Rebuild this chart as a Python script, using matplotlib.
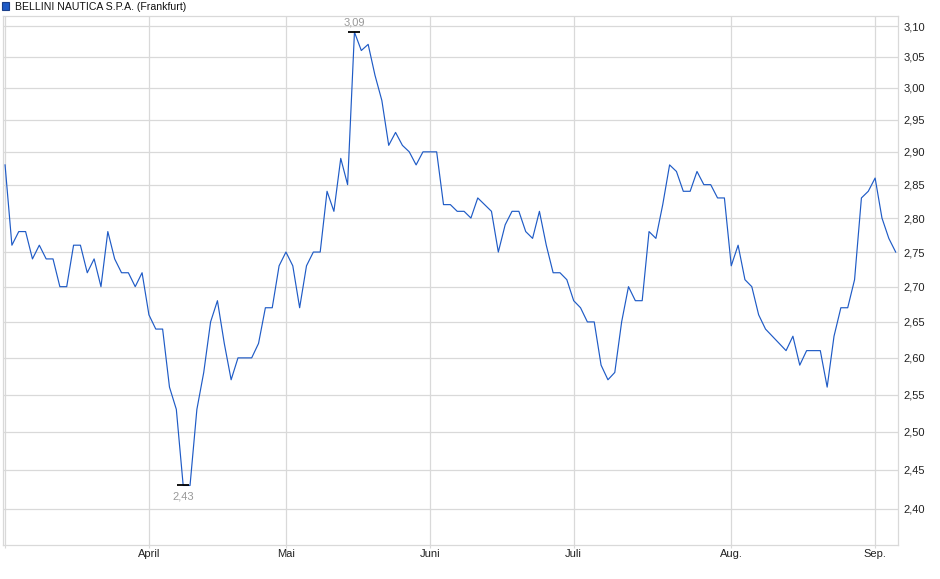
import numpy as np
import matplotlib.pyplot as plt
from matplotlib.ticker import FixedLocator, FuncFormatter, NullLocator

plt.rcParams['font.family'] = ['Liberation Sans', 'DejaVu Sans']

title = 'BELLINI NAUTICA S.P.A. (Frankfurt)'

prices = [
    2.88, 2.76, 2.78, 2.78, 2.74, 2.76, 2.74, 2.74, 2.70, 2.70, 2.76, 2.76,
    2.72, 2.74, 2.70, 2.78, 2.74, 2.72, 2.72, 2.70, 2.72, 2.66, 2.64, 2.64,
    2.56, 2.53, 2.43, 2.43, 2.53, 2.58, 2.65, 2.68, 2.62, 2.57, 2.60, 2.60,
    2.60, 2.62, 2.67, 2.67, 2.73, 2.75, 2.73, 2.67, 2.73, 2.75, 2.75, 2.84,
    2.81, 2.89, 2.85,
    3.09, 3.06, 3.07, 3.02, 2.98, 2.91, 2.93, 2.91, 2.90, 2.88, 2.90, 2.90,
    2.90, 2.82, 2.82, 2.81, 2.81, 2.80, 2.83, 2.82, 2.81, 2.75, 2.79, 2.81,
    2.81, 2.78, 2.77, 2.81, 2.76, 2.72, 2.72, 2.71, 2.68, 2.67, 2.65, 2.65,
    2.59, 2.57, 2.58, 2.65, 2.70, 2.68, 2.68, 2.78, 2.77, 2.82, 2.88, 2.87,
    2.84, 2.84, 2.87, 2.85, 2.85, 2.83, 2.83, 2.73, 2.76, 2.71, 2.70, 2.66,
    2.64, 2.63, 2.62, 2.61, 2.63, 2.59, 2.61, 2.61, 2.61, 2.56, 2.63, 2.67,
    2.67, 2.71, 2.83, 2.84, 2.86, 2.80, 2.77, 2.75,
]

# month starts (trading day index) and their labels
month_pos = [0, 21, 41, 62, 83, 106, 127]
month_labels = ['', 'April', 'Mai', 'Juni', 'Juli', 'Aug.', 'Sep.']

y_ticks = [2.40, 2.45, 2.50, 2.55, 2.60, 2.65, 2.70, 2.75, 2.80, 2.85,
           2.90, 2.95, 3.00, 3.05, 3.10]

W, H = 940, 579
fig = plt.figure(figsize=(W / 100, H / 100), dpi=100)
ax = fig.add_axes([3 / W, (H - 545) / H, (898 - 3) / W, (545 - 16) / H])

grid_c = '#d9d9d9'
line_c = '#1f5bc6'

x = np.arange(len(prices))
ax.plot(x, prices, color=line_c, lw=0.85, zorder=3)

ax.set_yscale('log')
ax.set_ylim(2.3545, 3.1165)
ax.set_xlim(-0.3, len(prices) - 1 + 0.34)

ax.yaxis.set_major_locator(FixedLocator(y_ticks))
ax.yaxis.set_minor_locator(NullLocator())
ax.yaxis.set_major_formatter(FuncFormatter(lambda v, p: f'{v:.2f}'.replace('.', ',')))
ax.yaxis.tick_right()
ax.tick_params(axis='y', length=0, pad=4, labelsize=8, colors='#222222')

ax.set_xticks(month_pos)
ax.set_xticklabels(month_labels)
ax.tick_params(axis='x', length=2.5, width=0.8, color=grid_c, pad=0.5,
               labelsize=8, labelcolor='#222222')

ax.grid(True, color=grid_c, lw=0.9)
ax.set_axisbelow(True)
for s in ax.spines.values():
    s.set_color(grid_c)
    s.set_linewidth(0.9)

# max / min markers
vals = np.array(prices)
imax = int(np.argmax(vals))
imin = int(np.argmin(vals))
ax.plot([imax], [vals[imax]], marker='_', ms=9, mew=1.3, color='black', zorder=4)
ax.plot([imin], [vals[imin]], marker='_', ms=9, mew=1.3, color='black', zorder=4)
ax.annotate(f'{vals[imax]:.2f}'.replace('.', ','), (imax, vals[imax]),
            xytext=(0, 3), textcoords='offset points', ha='center', va='bottom',
            fontsize=8, color='#999999')
ax.annotate(f'{vals[imin]:.2f}'.replace('.', ','), (imin, vals[imin]),
            xytext=(0, -4), textcoords='offset points', ha='center', va='top',
            fontsize=8, color='#999999')

# legend-like title
fig.patches.append(plt.Rectangle((1.5 / W, (H - 9.5) / H), 7 / W, 7 / H,
                                 transform=fig.transFigure, facecolor=line_c,
                                 edgecolor='#1a3f8a', lw=0.8))
fig.text(15 / W, (H - 6.5) / H, title, fontsize=7.6, va='center', ha='left',
         color='#111111')

fig.savefig('out.png', dpi=100)
